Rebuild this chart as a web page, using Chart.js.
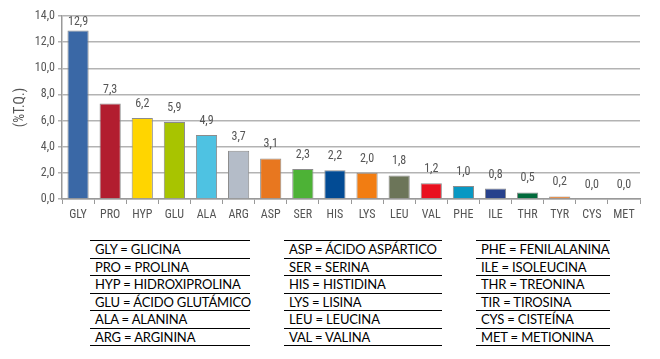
<!DOCTYPE html>
<html>
<head>
<meta charset="utf-8">
<script src="https://cdn.jsdelivr.net/npm/chart.js@4"></script>
<style>
  body { margin: 0; background: #fff; width: 660px; height: 359px; overflow: hidden; position: relative; }
  #wrap { position: absolute; left: 0; top: 0; width: 660px; height: 229px; }
  .col { position: absolute; top: 240px; border-top: 1.5px solid #000; font-family: Lato, "Open Sans", sans-serif; font-size: 13px; letter-spacing: -0.15px; color: #000; }
  .row { height: 16.5px; line-height: 17px; border-bottom: 1.5px solid #000; padding-left: 5px; white-space: nowrap; }
</style>
</head>
<body>
<div id="wrap"><canvas id="mycanvas" width="660" height="229"></canvas></div>
<div class="col" id="c0" style="left:90px; width:160px;"></div>
<div class="col" id="c1" style="left:284px; width:158px;"></div>
<div class="col" id="c2" style="left:476px; width:134px;"></div>
<script>
var aminoLabels = ['GLY','PRO','HYP','GLU','ALA','ARG','ASP','SER','HIS','LYS','LEU','VAL','PHE','ILE','THR','TYR','CYS','MET'];
var percentTQ = [12.9, 7.3, 6.2, 5.9, 4.9, 3.7, 3.1, 2.3, 2.2, 2.0, 1.8, 1.2, 1.0, 0.8, 0.5, 0.2, 0.0, 0.0];
var barColors = ['#3a68a6','#b21d2f','#ffd500','#a8c400','#4ec2e2','#b4bcc8','#e8771f','#4db236','#024b94','#f27d12','#6c7559','#e9111f','#0898c3','#27418c','#006a3b','#e8771f','#999999','#999999'];
var legendCols = [
  ['GLY = GLICINA','PRO = PROLINA','HYP = HIDROXIPROLINA','GLU = ÁCIDO GLUTÁMICO','ALA = ALANINA','ARG = ARGININA'],
  ['ASP = ÁCIDO ASPÁRTICO','SER = SERINA','HIS = HISTIDINA','LYS = LISINA','LEU = LEUCINA','VAL = VALINA'],
  ['PHE = FENILALANINA','ILE = ISOLEUCINA','THR = TREONINA','TIR = TIROSINA','CYS = CISTEÍNA','MET = METIONINA']
];

for (var c = 0; c < legendCols.length; c++) {
  var html = '';
  for (var r = 0; r < legendCols[c].length; r++) {
    html += '<div class="row">' + legendCols[c][r] + '</div>';
  }
  document.getElementById('c' + c).innerHTML = html;
}

function comma(v) { return Number(v).toFixed(1).replace('.', ','); }

var chartFont = "'Liberation Sans Narrow', 'Roboto Condensed', Roboto, sans-serif";

// value labels over each bar
var valueLabels = {
  id: 'valueLabels',
  afterDatasetsDraw: function(chart) {
    var ctx = chart.ctx;
    var meta = chart.getDatasetMeta(0);
    ctx.save();
    ctx.fillStyle = '#555';
    ctx.font = '12px ' + chartFont;
    ctx.textAlign = 'center';
    ctx.textBaseline = 'bottom';
    meta.data.forEach(function(bar, i) {
      var gap = percentTQ[i] > 9 ? 2 : 8;
      ctx.fillText(comma(percentTQ[i]), bar.x, bar.y - gap);
    });
    ctx.restore();
  }
};

var ctx = document.getElementById('mycanvas');
var barGraph = new Chart(ctx, {
  type: 'bar',
  data: {
    labels: aminoLabels,
    datasets: [{
      data: percentTQ,
      backgroundColor: barColors,
      borderColor: '#8c8c8c',
      borderWidth: 1,
      categoryPercentage: 1,
      barPercentage: 0.66
    }]
  },
  options: {
    responsive: false,
    animation: false,
    events: [],
    layout: { padding: { left: 0, right: 20, top: 16, bottom: 0 } },
    plugins: { legend: { display: false }, tooltip: { enabled: false } },
    scales: {
      x: {
        grid: { offset: true, drawOnChartArea: false, color: '#999', tickLength: 5, lineWidth: 1 },
        border: { color: '#999', width: 1.5 },
        ticks: { color: '#555', font: { family: chartFont, size: 12 }, padding: 4 },
        afterFit: function(scale) { scale.height = 30; }
      },
      y: {
        min: 0,
        max: 14,
        ticks: { stepSize: 2, color: '#555', font: { family: chartFont, size: 12 }, padding: 3, callback: function(v) { return comma(v); } },
        grid: { color: '#b3b3b3', lineWidth: 1.5, tickLength: 4 },
        border: { color: '#999', width: 1.5 },
        title: { display: true, text: '(%T.Q.)', color: '#555', font: { family: chartFont, size: 14 }, padding: { top: 12, bottom: 0 } },
        afterFit: function(scale) { scale.width = 62; }
      }
    }
  },
  plugins: [valueLabels]
});
</script>
</body>
</html>
